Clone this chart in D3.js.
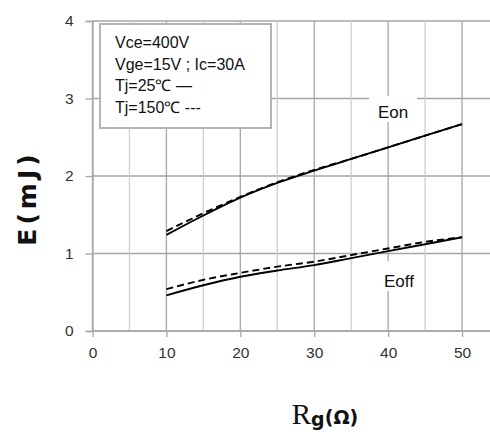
<!DOCTYPE html>
<html><head><meta charset="utf-8">
<script src="https://cdn.jsdelivr.net/npm/d3@7"></script>
<style>body{margin:0;background:#fff}svg{display:block}</style>
</head><body>
<svg id="c" width="490" height="434"></svg>
<script>
const rg = [10, 15, 20, 25, 30, 35, 40, 45, 50];
const eon25  = [1.24, 1.49, 1.72, 1.91, 2.07, 2.22, 2.37, 2.52, 2.67];
const eon150 = [1.29, 1.52, 1.73, 1.92, 2.08, 2.22, 2.37, 2.52, 2.67];
const eoff25  = [0.46, 0.59, 0.70, 0.78, 0.85, 0.94, 1.03, 1.12, 1.21];
const eoff150 = [0.54, 0.66, 0.75, 0.83, 0.895, 0.98, 1.065, 1.15, 1.21];
const xTicks = [0, 10, 20, 30, 40, 50];
const yTicks = [0, 1, 2, 3, 4];
const xGrid = [0, 5, 10, 15, 20, 25, 30, 35, 40, 45, 50, 55];
const legendLines = ["Vce=400V", "Vge=15V ; Ic=30A", "Tj=25\u2103 \u2014", "Tj=150\u2103 ---"];

const svg = d3.select("#c");
const x = d3.scaleLinear().domain([0, 55]).range([92.5, 499]);
const y = d3.scaleLinear().domain([0, 4]).range([331, 21]);

const g = svg.append("g");
g.selectAll(".hg").data(yTicks).join("line")
  .attr("x1", x(0)).attr("x2", 490).attr("y1", d => y(d)).attr("y2", d => y(d))
  .attr("stroke", "#a6a6a6").attr("stroke-width", 1.3);
g.selectAll(".vg").data(xGrid).join("line")
  .attr("x1", d => x(d)).attr("x2", d => x(d)).attr("y1", y(0)).attr("y2", y(4))
  .attr("stroke", d => d % 10 === 0 ? "#a6a6a6" : "#cfcfcf").attr("stroke-width", 1.3);

const yAx = svg.append("g").attr("transform", `translate(${x(0)},0)`)
  .call(d3.axisLeft(y).tickValues(yTicks).tickSize(7).tickPadding(12).tickFormat(d3.format("d")));
const xAx = svg.append("g").attr("transform", `translate(0,${y(0)})`)
  .call(d3.axisBottom(x).tickValues(xTicks).tickSize(6).tickPadding(10).tickFormat(d3.format("d")));
[yAx, xAx].forEach(a => {
  a.select(".domain").attr("stroke", "#a6a6a6").attr("stroke-width", 1.3);
  a.selectAll(".tick line").attr("stroke", "#a6a6a6").attr("stroke-width", 1.3);
  a.selectAll("text").attr("fill", "#333").style("font-family", "Liberation Sans, Arial, sans-serif").style("font-size", "15.5px");
});
xAx.select(".domain").remove();
xAx.append("line").attr("x1", x(0)).attr("x2", 490).attr("stroke", "#a6a6a6").attr("stroke-width", 1.3);

function label(txt, cx, base, w, h) {
  svg.append("rect").attr("x", cx - w / 2).attr("y", base - h + 4).attr("width", w).attr("height", h).attr("fill", "#fff");
  svg.append("text").attr("x", cx).attr("y", base).attr("text-anchor", "middle")
    .style("font-family", "Liberation Sans, Arial, sans-serif").style("font-size", "17px").attr("fill", "#111").text(txt);
}
label("Eon", 393, 118, 48, 26);
label("Eoff", 399, 287, 48, 30);

const line = d3.line().x((d, i) => x(rg[i])).y(d => y(d)).curve(d3.curveMonotoneX);
const series = [
  {v: eon25, dash: null}, {v: eon150, dash: "7,4"},
  {v: eoff25, dash: null}, {v: eoff150, dash: "7,4"}
];
svg.selectAll(".ln").data(series).join("path")
  .attr("d", d => line(d.v)).attr("fill", "none").attr("stroke", "#000")
  .attr("stroke-width", 1.9).attr("stroke-dasharray", d => d.dash);

svg.append("rect").attr("x", 100).attr("y", 24).attr("width", 171).attr("height", 104)
  .attr("fill", "#fff").attr("stroke", "#b4b4b4").attr("stroke-width", 2);
svg.selectAll(".lg").data(legendLines).join("text")
  .attr("x", 115).attr("y", (d, i) => 48 + i * 21.7)
  .style("font-family", "Liberation Sans, Arial, sans-serif").style("font-size", "16px")
  .attr("fill", "#111").text(d => d);

svg.append("text").attr("transform", "translate(36,198) rotate(-90)")
  .attr("text-anchor", "middle").style("font-family", "DejaVu Sans, sans-serif")
  .style("font-weight", "bold").style("font-size", "25px").style("letter-spacing", "4px")
  .attr("fill", "#111").text("E(mJ)");

const xt = svg.append("text").attr("x", 325).attr("y", 424).attr("text-anchor", "middle").attr("fill", "#111");
xt.append("tspan").style("font-family", "Liberation Serif, serif").style("font-size", "29px").text("R");
xt.append("tspan").style("font-family", "DejaVu Sans, sans-serif").style("font-weight", "bold").style("font-size", "19px").attr("dy", 2).text("g");
xt.append("tspan").style("font-family", "DejaVu Sans, sans-serif").style("font-weight", "bold").style("font-size", "19px").attr("dy", -2).text("(Ω)");
</script>
</body></html>
